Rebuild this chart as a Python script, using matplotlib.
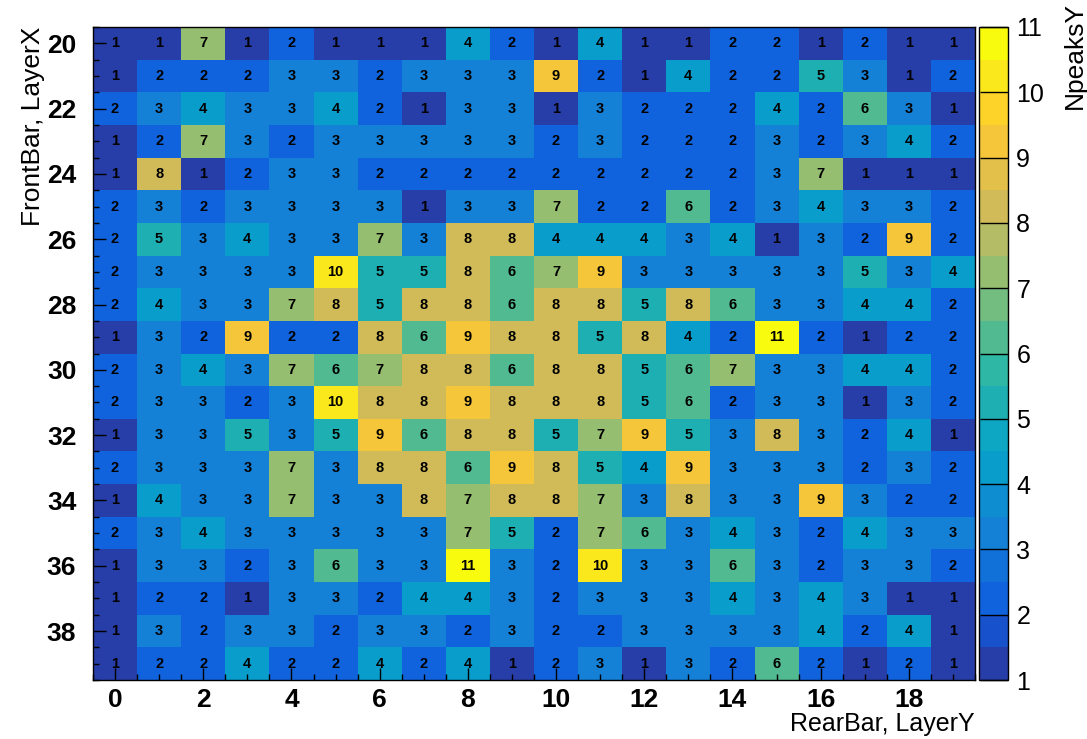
import numpy as np
import matplotlib
matplotlib.use("Agg")
import matplotlib.pyplot as plt
from matplotlib.colors import LinearSegmentedColormap, ListedColormap, BoundaryNorm

# ---- data ----
rear_bars = list(range(0, 20))      # x: RearBar, LayerY
front_bars = list(range(20, 40))    # y: FrontBar, LayerX
npeaks = [
    [1, 1, 7, 1, 2, 1, 1, 1, 4, 2, 1, 4, 1, 1, 2, 2, 1, 2, 1, 1],
    [1, 2, 2, 2, 3, 3, 2, 3, 3, 3, 9, 2, 1, 4, 2, 2, 5, 3, 1, 2],
    [2, 3, 4, 3, 3, 4, 2, 1, 3, 3, 1, 3, 2, 2, 2, 4, 2, 6, 3, 1],
    [1, 2, 7, 3, 2, 3, 3, 3, 3, 3, 2, 3, 2, 2, 2, 3, 2, 3, 4, 2],
    [1, 8, 1, 2, 3, 3, 2, 2, 2, 2, 2, 2, 2, 2, 2, 3, 7, 1, 1, 1],
    [2, 3, 2, 3, 3, 3, 3, 1, 3, 3, 7, 2, 2, 6, 2, 3, 4, 3, 3, 2],
    [2, 5, 3, 4, 3, 3, 7, 3, 8, 8, 4, 4, 4, 3, 4, 1, 3, 2, 9, 2],
    [2, 3, 3, 3, 3, 10, 5, 5, 8, 6, 7, 9, 3, 3, 3, 3, 3, 5, 3, 4],
    [2, 4, 3, 3, 7, 8, 5, 8, 8, 6, 8, 8, 5, 8, 6, 3, 3, 4, 4, 2],
    [1, 3, 2, 9, 2, 2, 8, 6, 9, 8, 8, 5, 8, 4, 2, 11, 2, 1, 2, 2],
    [2, 3, 4, 3, 7, 6, 7, 8, 8, 6, 8, 8, 5, 6, 7, 3, 3, 4, 4, 2],
    [2, 3, 3, 2, 3, 10, 8, 8, 9, 8, 8, 8, 5, 6, 2, 3, 3, 1, 3, 2],
    [1, 3, 3, 5, 3, 5, 9, 6, 8, 8, 5, 7, 9, 5, 3, 8, 3, 2, 4, 1],
    [2, 3, 3, 3, 7, 3, 8, 8, 6, 9, 8, 5, 4, 9, 3, 3, 3, 2, 3, 2],
    [1, 4, 3, 3, 7, 3, 3, 8, 7, 8, 8, 7, 3, 8, 3, 3, 9, 3, 2, 2],
    [2, 3, 4, 3, 3, 3, 3, 3, 7, 5, 2, 7, 6, 3, 4, 3, 2, 4, 3, 3],
    [1, 3, 3, 2, 3, 6, 3, 3, 11, 3, 2, 10, 3, 3, 6, 3, 2, 3, 3, 2],
    [1, 2, 2, 1, 3, 3, 2, 4, 4, 3, 2, 3, 3, 3, 4, 3, 4, 3, 1, 1],
    [1, 3, 2, 3, 3, 2, 3, 3, 2, 3, 2, 2, 3, 3, 3, 3, 4, 2, 4, 1],
    [1, 2, 2, 4, 2, 2, 4, 2, 4, 1, 2, 3, 1, 3, 2, 6, 2, 1, 2, 1],
]
x_ticks = [0, 2, 4, 6, 8, 10, 12, 14, 16, 18]
y_ticks = [20, 22, 24, 26, 28, 30, 32, 34, 36, 38]
cbar_ticks = list(range(1, 12))
x_label = "RearBar, LayerY"
y_label = "FrontBar, LayerX"
z_label = "NpeaksY"

# ---- ROOT kBird palette, 20 contour levels ----
stops = [0.0, 0.125, 0.25, 0.375, 0.5, 0.625, 0.75, 0.875, 1.0]
red = [0.2082, 0.0592, 0.0780, 0.0232, 0.1802, 0.5301, 0.8186, 0.9956, 0.9764]
green = [0.1664, 0.3599, 0.5041, 0.6419, 0.7178, 0.7492, 0.7328, 0.7862, 0.9832]
blue = [0.5293, 0.8684, 0.8385, 0.7914, 0.6425, 0.4662, 0.3499, 0.1968, 0.0539]
bird = LinearSegmentedColormap.from_list(
    "bird", list(zip(stops, zip(red, green, blue))), N=255)
ncont = 20
ncol = 255
band_cols = [bird(min(int((i + 0.99) * ncol / ncont), ncol - 1) / (ncol - 1))
             for i in range(ncont)]
cmap = ListedColormap(band_cols)
zmin, zmax = 1, 11
bounds = np.linspace(zmin, zmax, ncont + 1)
norm = BoundaryNorm(bounds, cmap.N, clip=True)

plt.rcParams['font.family'] = ['Liberation Sans', 'DejaVu Sans']

W, H = 1087, 739
fig = plt.figure(figsize=(W / 100, H / 100), dpi=100)
L, R, T, B = 93, 975, 27, 680
ax = fig.add_axes([L / W, 1 - B / H, (R - L) / W, (B - T) / H])
cax = fig.add_axes([979 / W, 1 - B / H, (1008 - 979) / W, (B - T) / H])

Z = np.array(npeaks, dtype=float)
xe = np.arange(len(rear_bars) + 1) - 0.5 + rear_bars[0]
ye = np.arange(len(front_bars) + 1) - 0.5 + front_bars[0]
mesh = ax.pcolormesh(xe, ye, Z, cmap=cmap, norm=norm)
ax.set_xlim(xe[0], xe[-1])
ax.set_ylim(ye[-1], ye[0])

for i, yv in enumerate(front_bars):
    for j, xv in enumerate(rear_bars):
        ax.text(xv, yv, str(npeaks[i][j]), ha='center', va='center',
                fontsize=10.5, fontweight='bold', color='black')

ax.set_xticks(x_ticks)
ax.set_yticks(y_ticks)
ax.set_xticks(np.arange(xe[0], xe[-1] + 0.01, 0.5), minor=True)
ax.set_yticks(np.arange(ye[0], ye[-1] + 0.01, 0.5), minor=True)
ax.tick_params(which='major', direction='in', length=9, width=1,
               labelsize=19, top=False, right=False)
ax.tick_params(which='minor', direction='in', length=4, width=1,
               top=False, right=False)
ax.tick_params(axis='x', pad=6)
ax.tick_params(axis='y', pad=12)
for lab in ax.get_xticklabels() + ax.get_yticklabels():
    lab.set_fontweight('bold')
for sp in ax.spines.values():
    sp.set_linewidth(1)

# colorbar
cb = fig.colorbar(mesh, cax=cax, boundaries=bounds, ticks=cbar_ticks)
cb.outline.set_linewidth(1)
cax.tick_params(direction='in', length=20, width=1, labelsize=18, pad=6)
cax.minorticks_off()

fig.text(33 / W, 1 - 27 / H, y_label, rotation=90, ha='center', va='top',
         fontsize=19)
fig.text(R / W, 1 - 736 / H, x_label, ha='right', va='bottom', fontsize=18)
fig.text(1075 / W, 1 - 2 / H, z_label, rotation=90, ha='center', va='top',
         fontsize=19)

fig.savefig("out.png", dpi=100, facecolor='white')
